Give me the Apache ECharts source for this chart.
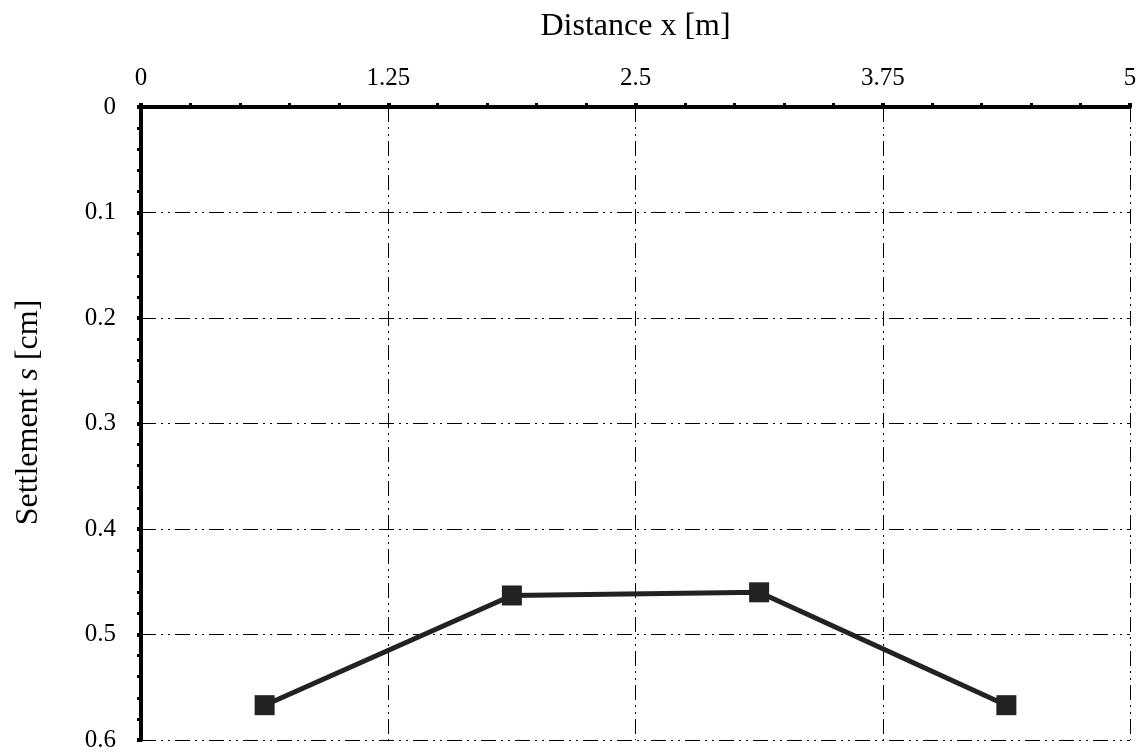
<!DOCTYPE html>
<html>
<head>
<meta charset="utf-8">
<script src="https://cdn.jsdelivr.net/npm/echarts@6/dist/echarts.min.js"></script>
<style>
  html, body { margin: 0; padding: 0; background: #fff; }
  #chart { width: 1140px; height: 755px; }
</style>
</head>
<body>
<div id="chart"></div>
<script>
// Measured settlement profile along the distance
const distance = [0.625, 1.875, 3.125, 4.375];
const settlement = [0.567, 0.463, 0.460, 0.567];

const xTicks = { min: 0, max: 5, interval: 1.25 };
const yTicks = { min: 0, max: 0.6, interval: 0.1 };

const FONT = '"Liberation Serif", "DejaVu Serif", serif';
const dashDotDot = [15, 5, 2, 5, 2, 5];

const chart = echarts.init(document.getElementById('chart'), null, { renderer: 'canvas' });

chart.setOption({
  animation: false,
  backgroundColor: '#ffffff',
  grid: { left: 141, right: 10, top: 107, bottom: 15, containLabel: false },
  xAxis: {
    type: 'value',
    position: 'top',
    min: xTicks.min, max: xTicks.max, interval: xTicks.interval,
    name: 'Distance x [m]',
    nameLocation: 'middle',
    nameGap: 64,
    nameTextStyle: { fontFamily: FONT, fontSize: 32, color: '#000' },
    axisLine: { show: true, onZero: false, lineStyle: { color: '#000', width: 4 } },
    axisTick: { show: true, length: 4, lineStyle: { color: '#000', width: 4 } },
    minorTick: { show: true, splitNumber: 5, length: 4, lineStyle: { color: '#000', width: 3 } },
    axisLabel: { fontFamily: FONT, fontSize: 25, color: '#000', margin: 16 },
    splitLine: { show: true, lineStyle: { color: '#000', width: 1, type: dashDotDot } }
  },
  yAxis: {
    type: 'value',
    inverse: true,
    min: yTicks.min, max: yTicks.max, interval: yTicks.interval,
    name: '{n|Settlement }{i|s}{n| [cm]}',
    nameLocation: 'middle',
    nameGap: 96,
    nameRotate: 90,
    nameTextStyle: {
      padding: [0, 0, 0, 22],
      rich: {
        n: { fontFamily: FONT, fontSize: 32, color: '#000' },
        i: { fontFamily: FONT, fontSize: 32, color: '#000', fontStyle: 'italic' }
      }
    },
    axisLine: { show: true, onZero: false, lineStyle: { color: '#000', width: 4 } },
    axisTick: { show: true, length: 4, lineStyle: { color: '#000', width: 4 } },
    minorTick: { show: true, splitNumber: 5, length: 4, lineStyle: { color: '#000', width: 3 } },
    axisLabel: { fontFamily: FONT, fontSize: 25, color: '#000', margin: 25 },
    splitLine: { show: true, lineStyle: { color: '#000', width: 1, type: dashDotDot } }
  },
  series: [{
    type: 'line',
    data: distance.map((d, i) => [d, settlement[i]]),
    symbol: 'rect',
    symbolSize: 20,
    itemStyle: { color: '#222222' },
    lineStyle: { color: '#222222', width: 5 }
  }]
});
</script>
</body>
</html>
